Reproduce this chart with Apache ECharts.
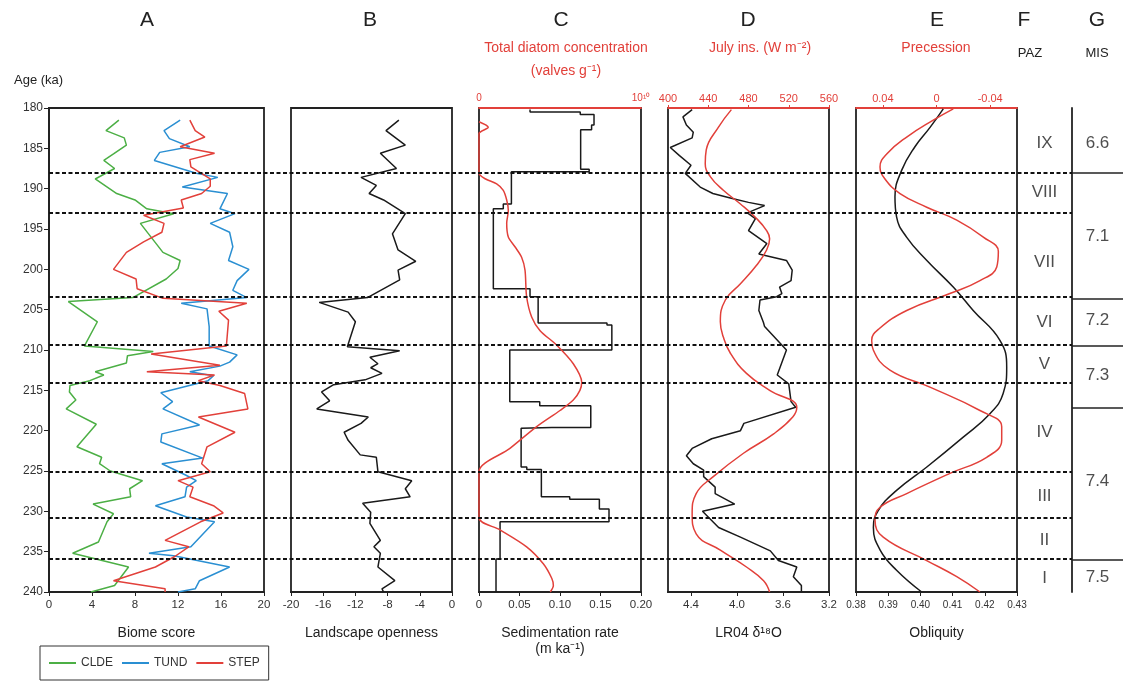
<!DOCTYPE html>
<html><head><meta charset="utf-8">
<script src="https://cdn.jsdelivr.net/npm/echarts@6/dist/echarts.min.js"></script>
<style>html,body{margin:0;padding:0;background:#fff}#c{width:1123px;height:684px}</style>
</head><body><div id="c"></div>
<script>
// ---------- DATA (age ka, value) ----------
const cldeData = [[181.5,6.5],[182.8,5.3],[183.7,7.0],[184.6,7.2],[185.7,6.0],[186.5,5.1],[187.5,6.1],[188.8,4.3],[190.6,6.3],[191.4,8.0],[192.5,9.1],[193.1,11.6],[194.3,8.5],[197.9,10.6],[198.9,12.2],[199.9,12.0],[201.2,10.9],[203.5,7.8],[204.0,1.8],[206.5,4.5],[209.5,3.3],[210.2,9.7],[210.7,7.3],[211.6,7.2],[212.7,4.3],[213.1,5.1],[213.8,3.8],[214.4,1.95],[215.2,1.9],[216.2,2.5],[217.3,1.6],[219.2,4.4],[222.0,2.6],[223.3,4.9],[224.1,4.7],[225.0,5.7],[226.2,8.7],[227.2,7.5],[228.2,7.6],[229.1,4.1],[230.3,6.0],[231.3,5.4],[233.8,4.6],[235.2,2.2],[236.9,7.4],[239.2,6.1],[240.0,3.9]];
const tundData = [[181.5,12.2],[182.8,10.7],[183.8,11.2],[184.8,13.1],[185.5,10.3],[186.5,9.8],[188.1,13.7],[188.6,15.7],[189.8,12.4],[190.6,16.6],[192.5,15.9],[193.1,17.3],[194.3,15.0],[195.4,16.8],[197.2,17.1],[198.9,16.7],[200.0,18.6],[201.4,17.5],[202.6,17.1],[203.5,18.4],[204.2,12.3],[204.9,14.7],[207.1,14.9],[209.5,14.9],[210.6,17.5],[211.5,16.8],[212.0,15.9],[212.7,13.1],[213.2,15.3],[213.8,14.8],[215.3,10.4],[216.4,11.5],[217.3,10.6],[219.3,14.0],[220.4,10.5],[221.4,10.4],[223.4,14.3],[224.1,10.5],[225.5,12.7],[226.2,13.7],[227.0,12.8],[228.2,12.65],[229.3,9.9],[230.7,12.8],[231.3,15.4],[234.4,13.2],[235.2,9.3],[235.5,11.6],[236.9,16.8],[238.6,14.0],[239.6,13.6],[240.0,12.0]];
const stepData = [[181.5,13.1],[182.8,13.6],[183.6,14.5],[184.8,12.2],[185.6,15.4],[186.4,13.1],[187.3,13.2],[188.8,15.0],[189.7,15.0],[190.6,14.2],[191.4,12.3],[192.4,12.5],[193.3,8.8],[194.3,10.7],[195.4,10.5],[196.6,8.8],[197.9,7.2],[200.0,6.0],[201.2,8.1],[202.4,8.2],[203.6,10.6],[204.2,18.4],[205.2,15.8],[206.3,16.7],[209.5,16.5],[210.5,9.5],[211.9,15.9],[212.7,9.1],[213.1,15.4],[213.8,13.9],[214.4,15.9],[215.4,18.2],[217.3,18.5],[218.3,13.9],[220.2,17.3],[222.0,14.7],[224.1,14.2],[225.1,15.0],[226.2,12.0],[227.0,13.4],[228.2,13.1],[229.3,15.3],[230.2,16.2],[231.3,14.1],[233.6,10.8],[234.4,13.0],[235.6,11.7],[236.9,9.9],[238.6,6.0],[239.6,10.8],[240.0,10.8]];
const opennessData = [[181.5,-6.6],[182.8,-8.2],[184.6,-5.8],[185.6,-8.9],[187.5,-6.9],[188.6,-11.3],[189.6,-9.4],[190.6,-10.3],[191.4,-8.5],[193.1,-5.8],[195.6,-7.4],[197.6,-6.7],[199.0,-4.5],[200.1,-6.7],[201.3,-6.5],[203.5,-10.5],[204.1,-16.5],[205.3,-12.9],[206.5,-12.0],[209.6,-13.0],[210.1,-6.5],[210.9,-10.2],[211.7,-9.2],[212.2,-10.1],[212.9,-8.7],[213.7,-10.8],[214.3,-14.7],[215.2,-16.2],[216.3,-15.2],[217.3,-16.8],[218.3,-10.4],[219.1,-11.3],[220.2,-13.4],[221.2,-12.9],[223.0,-11.4],[223.3,-9.4],[225.1,-9.2],[226.2,-5.0],[227.2,-5.8],[228.2,-5.2],[229.0,-11.1],[230.1,-10.1],[231.5,-10.2],[233.6,-8.9],[234.4,-9.7],[235.2,-8.9],[236.9,-9.2],[238.6,-7.1],[239.6,-8.7],[240.0,-8.5]];
const sedBounds = [180.2,180.5,180.8,182.1,182.7,187.6,187.9,191.9,192.5,202.4,203.4,206.65,206.9,210.0,216.4,216.9,219.6,219.7,224.5,224.8,228.2,228.5,229.7,231.3,235.9,240.0];
const sedRates = [0.063,0.125,0.142,0.139,0.1255,0.136,0.040,0.030,0.0177,0.063,0.073,0.158,0.164,0.038,0.075,0.138,0.09,0.052,0.059,0.077,0.112,0.1486,0.1605,0.026,0.021];
const diatomData = [[181.7,0],[182.4,5.7e8],[183.2,0],[188.1,0],[188.8,4.1e8],[189.4,1.09e9],[190.2,1.5e9],[191.4,1.71e9],[192.7,1.81e9],[194.3,1.71e9],[196.0,1.81e9],[197.2,2.22e9],[198.5,2.63e9],[200.1,2.84e9],[203.4,2.94e9],[205.9,3.25e9],[207.6,3.77e9],[209.4,4.8e9],[211.7,5.82e9],[214.0,6.34e9],[215.0,6.23e9],[216.2,5.82e9],[217.5,5.0e9],[219.5,3.56e9],[222.2,1.91e9],[225.1,0],[230.8,0],[232.3,1.3e9],[234.4,2.94e9],[236.5,3.97e9],[238.3,4.49e9],[239.2,4.59e9],[240.0,4.4e9]];
const d18OData = [[180.2,4.39],[181.1,4.47],[182.1,4.44],[183.0,4.38],[183.7,4.39],[184.9,4.58],[185.9,4.50],[187.1,4.40],[188.1,4.45],[189.8,4.32],[190.6,4.21],[191.2,4.05],[191.7,3.90],[192.1,3.76],[193.0,3.91],[193.7,3.84],[195.2,3.90],[196.8,3.74],[198.1,3.81],[198.9,3.57],[200.1,3.52],[201.4,3.53],[202.2,3.63],[203.0,3.61],[203.4,3.655],[203.8,3.80],[205.1,3.81],[206.6,3.77],[207.1,3.76],[210.0,3.57],[213.1,3.65],[214.2,3.55],[216.4,3.53],[217.1,3.49],[219.1,3.94],[220.0,3.97],[221.0,4.22],[222.2,4.39],[223.1,4.44],[224.1,4.38],[224.9,4.29],[225.7,4.29],[227.0,4.19],[227.8,4.19],[229.1,4.02],[230.0,4.30],[232.0,4.16],[233.2,3.97],[234.9,3.71],[236.1,3.64],[236.9,3.48],[238.1,3.51],[239.2,3.44],[240.0,3.44]];
const insolData = [[180.2,463],[182.4,450],[185.2,438],[186.9,437],[188.5,442],[190.2,455],[191.9,472],[193.7,488],[195.2,498],[196.2,501],[197.6,498],[199.5,488],[201.8,472],[203.8,457],[206.5,452],[208.4,455],[210.4,462],[212.9,478],[215.0,501],[217.1,528],[218.3,524],[220.4,505],[222.8,475],[225.7,445],[227.8,428],[230.3,424],[232.8,428],[234.8,452],[236.9,478],[238.6,495],[240.0,501]];
const obliqData = [[180.1,0.4071],[182.4,0.4030],[184.8,0.3983],[187.7,0.3942],[191.0,0.3921],[193.5,0.3926],[196.0,0.3957],[198.9,0.4020],[202.2,0.4102],[205.1,0.4164],[208.8,0.4247],[212.1,0.4268],[215.4,0.4257],[217.9,0.4216],[220.8,0.4133],[224.5,0.4020],[227.4,0.3926],[229.9,0.3869],[232.0,0.3854],[234.8,0.3875],[237.3,0.3926],[240.0,0.4004]];
const precData = [[180.1,-0.0125],[181.5,0.0024],[183.6,0.0222],[185.7,0.0371],[187.3,0.0421],[188.8,0.0384],[190.6,0.0272],[192.3,0.0073],[193.9,-0.0151],[196.0,-0.0349],[197.8,-0.0461],[199.7,-0.0449],[201.4,-0.0324],[203.0,-0.0100],[205.1,0.0222],[207.4,0.0430],[208.8,0.0483],[210.0,0.0471],[212.5,0.0347],[214.6,0.0049],[217.5,-0.0324],[219.5,-0.0486],[221.2,-0.0486],[223.3,-0.0374],[225.3,-0.0100],[227.8,0.0222],[229.5,0.0421],[231.1,0.0458],[233.2,0.0397],[236.1,0.0073],[238.1,-0.0151],[240.0,-0.0324]];
const pazBounds = [188.0,193.0,203.4,209.4,214.1,225.1,230.8,235.9];
const pazLabels = ['IX','VIII','VII','VI','V','IV','III','II','I'];
const pazLabelAges = [184.4,190.4,199.1,206.6,211.8,220.2,228.1,233.6,238.3];
const misBounds = [188.0,203.6,209.5,217.1,236.0];
const misLabels = ['6.6','7.1','7.2','7.3','7.4','7.5'];
const misLabelAges = [184.4,195.9,206.3,213.1,226.3,238.2];
const panelLetters = ['A','B','C','D','E','F','G'];
const legendNames = ['CLDE','TUND','STEP'];

// ---------- STYLE ----------
const FONT = '"Liberation Sans", Arial, sans-serif';
const RED = '#e2403a', GREEN = '#4caf45', BLUE = '#2a8fd2', BLACK = '#1a1a1a';
const TOP = 108, H = 484;
const panels = [
  {left:49, width:215}, {left:291, width:161}, {left:479, width:162},
  {left:668, width:161}, {left:856, width:161}
];
const grids = panels.map(p => ({left:p.left, top:TOP, width:p.width, height:H, show:true, borderColor:'#222', borderWidth:1.8, backgroundColor:'transparent'}));
grids.push({left:49, top:TOP, width:1023, height:H});   // 5 overlay dashes
grids.push({left:1017, top:TOP, width:55, height:H});   // 6 PAZ
grids.push({left:1072, top:TOP, width:51, height:H});   // 7 MIS

const yAxes = grids.map((g,i) => ({
  gridIndex:i, type:'value', min:180, max:240, interval:5, inverse:true,
  show: i===0 || i===7,
  axisLine:{show:true, lineStyle:{color:'#222', width:1.8}},
  axisTick:{show:i===0, length:5, lineStyle:{color:'#222'}},
  axisLabel:{show:i===0, fontSize:12, color:'#333', fontFamily:FONT, margin:6},
  splitLine:{show:false}
}));

function bottomAxis(grid, o){
  return Object.assign({
    gridIndex:grid, type:'value', position:'bottom',
    axisLine:{show:true, onZero:false, lineStyle:{color:'#222', width:1.8}},
    axisTick:{show:true, length:4, lineStyle:{color:'#222'}},
    axisLabel:{fontSize:11.5, color:'#333', fontFamily:FONT, margin:7},
    splitLine:{show:false},
    nameLocation:'middle', nameGap:33,
    nameTextStyle:{fontSize:14, color:'#222', fontFamily:FONT, lineHeight:16}
  }, o);
}
function topAxis(grid, o){
  return Object.assign({
    gridIndex:grid, type:'value', position:'top',
    axisLine:{show:true, onZero:false, lineStyle:{color:RED, width:1.8}},
    axisTick:{show:true, length:3, lineStyle:{color:RED}},
    axisLabel:{fontSize:11, color:RED, fontFamily:FONT, margin:4},
    splitLine:{show:false}
  }, o);
}
const xAxes = [
  bottomAxis(0, {min:0, max:20, interval:4, name:'Biome score'}),
  bottomAxis(1, {min:-20, max:0, interval:4, name:'Landscape openness'}),
  bottomAxis(2, {min:0, max:0.2, interval:0.05, name:'Sedimentation rate\n(m ka⁻¹)',
     axisLabel:{fontSize:11.5, color:'#333', fontFamily:FONT, margin:7, formatter:v=> v===0?'0':v.toFixed(2)}}),
  topAxis(2, {min:0, max:1e10, axisTick:{show:false}, axisLabel:{fontSize:10, color:RED, fontFamily:FONT, margin:5, customValues:[0,1e10],
     formatter:v=> v===0?'0':'10¹⁰'}}),
  bottomAxis(3, {min:3.2, max:4.6, inverse:true, name:'LR04 δ¹⁸O',
     axisTick:{show:true, length:4, lineStyle:{color:'#222'}, customValues:[3.2,3.6,4.0,4.4]},
     axisLabel:{fontSize:11.5, color:'#333', fontFamily:FONT, margin:7, customValues:[3.2,3.6,4.0,4.4], formatter:v=>v.toFixed(1)}}),
  topAxis(3, {min:400, max:560, interval:40}),
  bottomAxis(4, {min:0.38, max:0.43, interval:0.01, name:'Obliquity',
     axisLabel:{fontSize:10, color:'#333', fontFamily:FONT, margin:8, formatter:v=>v.toFixed(2)}}),
  topAxis(4, {min:-0.06, max:0.06, inverse:true,
     axisTick:{show:true, length:3, lineStyle:{color:RED}, customValues:[-0.04,0,0.04]},
     axisLabel:{fontSize:11, color:RED, fontFamily:FONT, margin:4, customValues:[-0.04,0,0.04],
       formatter:v=> Math.abs(v)<1e-9 ? '0' : v.toFixed(2)}}),
  {gridIndex:5, type:'value', min:0, max:1, show:false},
  {gridIndex:6, type:'value', min:0, max:1, show:false},
  {gridIndex:7, type:'value', min:0, max:1, show:false}
];

const flip = arr => arr.map(d => [d[1], d[0]]);
function sedStep(){
  const out = [];
  for (let i=0;i<sedRates.length;i++){
    out.push([sedRates[i], sedBounds[i]]);
    out.push([sedRates[i], sedBounds[i+1]]);
  }
  return out;
}
function lineSeries(name, data, xi, yi, color, smooth){
  return {name, type:'line', data, xAxisIndex:xi, yAxisIndex:yi, symbol:'none', smooth:smooth||false,
    lineStyle:{color, width:1.5}, itemStyle:{color}, clip:true, z:3};
}

const series = [
  lineSeries('CLDE', flip(cldeData), 0, 0, GREEN),
  lineSeries('TUND', flip(tundData), 0, 0, BLUE),
  lineSeries('STEP', flip(stepData), 0, 0, RED),
  lineSeries('openness', flip(opennessData), 1, 1, BLACK),
  lineSeries('sed', sedStep(), 2, 2, BLACK),
  lineSeries('diatom', flip(diatomData), 3, 2, RED, 0.3),
  lineSeries('d18O', flip(d18OData), 4, 3, BLACK),
  lineSeries('insol', flip(insolData), 5, 3, RED, 0.45),
  lineSeries('obliq', flip(obliqData), 6, 4, BLACK, 0.45),
  lineSeries('prec', flip(precData), 7, 4, RED, 0.45),
  {type:'line', xAxisIndex:8, yAxisIndex:5, data:[[0,180]], symbol:'none', lineStyle:{opacity:0}, z:10,
   markLine:{silent:true, symbol:'none', label:{show:false},
     lineStyle:{color:'#111', type:[4,2.5], width:1.8},
     data: pazBounds.map(a=>({yAxis:a}))}},
  {type:'scatter', xAxisIndex:9, yAxisIndex:6, symbolSize:1, itemStyle:{color:'rgba(0,0,0,0)'},
   data: pazLabels.map((t,i)=>({name:t, value:[0.5, pazLabelAges[i]]})),
   label:{show:true, position:'inside', formatter:'{b}', fontSize:17, color:'#222', fontFamily:FONT}},
  {type:'scatter', xAxisIndex:10, yAxisIndex:7, symbolSize:1, itemStyle:{color:'rgba(0,0,0,0)'},
   data: misLabels.map((t,i)=>({name:t, value:[0.5, misLabelAges[i]]})),
   label:{show:true, position:'inside', formatter:'{b}', fontSize:17, color:'#222', fontFamily:FONT},
   markLine:{silent:true, symbol:'none', label:{show:false},
     lineStyle:{color:'#222', type:'solid', width:1.6},
     data: misBounds.map(a=>({yAxis:a}))}}
];

const letterX = [147,370,561,748,937,1024,1097];
function txt(text, x, y, size, color, align){
  return {type:'text', x, y, silent:true, style:{text, fill:color||'#222', font:size+'px '+FONT,
    textAlign:align||'center', textVerticalAlign:'middle', align:align||'center', verticalAlign:'middle'}};
}
const graphics = panelLetters.map((l,i)=>txt(l, letterX[i], 20, 21, '#222'));
graphics.push(txt('Total diatom concentration', 566, 48, 14, RED));
graphics.push(txt('(valves g⁻¹)', 566, 71, 14, RED));
graphics.push(txt('July ins. (W m⁻²)', 760, 48, 14, RED));
graphics.push(txt('Precession', 936, 48, 14, RED));
graphics.push(txt('PAZ', 1030, 53, 13, '#222'));
graphics.push(txt('MIS', 1097, 53, 13, '#222'));
graphics.push(txt('Age (ka)', 14, 80, 13, '#222', 'left'));

const chart = echarts.init(document.getElementById('c'), null, {renderer:'canvas'});
chart.setOption({
  animation:false,
  backgroundColor:'#fff',
  textStyle:{fontFamily:FONT},
  grid: grids,
  xAxis: xAxes,
  yAxis: yAxes,
  legend:{data:legendNames, left:40, top:646, itemWidth:27, itemHeight:2, itemGap:9, icon:'rect',
    borderColor:'#333', borderWidth:1, padding:[11,9], textStyle:{fontSize:12, color:'#333', fontFamily:FONT}},
  graphic: graphics,
  series
});
</script></body></html>
